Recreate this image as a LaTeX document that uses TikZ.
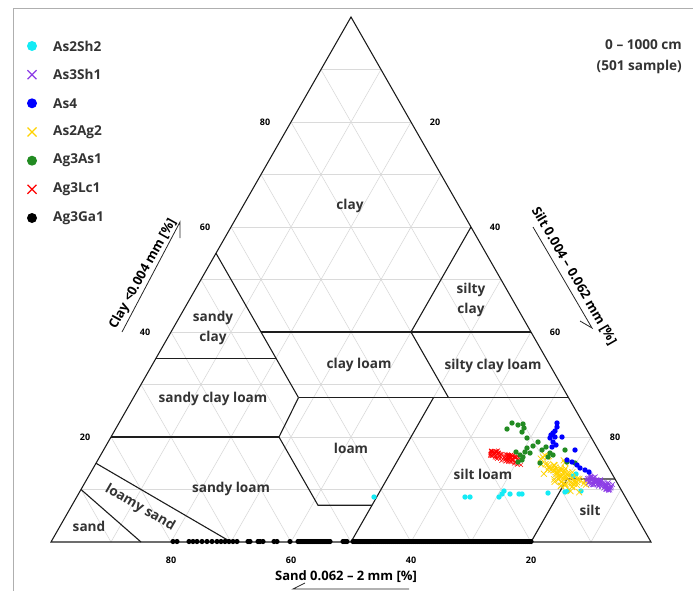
\documentclass[tikz,border=0pt]{standalone}
\usepackage{fontspec}
\setmainfont{Open Sans}
\definecolor{gridgray}{RGB}{218,218,218}
\definecolor{bnd}{RGB}{30,30,30}
\definecolor{txt}{RGB}{51,51,51}
\definecolor{framegray}{RGB}{175,175,175}
\definecolor{ccyan}{RGB}{20,235,245}
\definecolor{cpurple}{RGB}{140,60,230}
\definecolor{cblue}{RGB}{0,0,255}
\definecolor{cyellow}{RGB}{255,210,0}
\definecolor{cgreen}{RGB}{34,139,34}
\definecolor{cred}{RGB}{255,0,0}
\newcommand\crossat[4]{\draw[#4] (#1-#3,#2-#3) -- (#1+#3,#2+#3) (#1-#3,#2+#3) -- (#1+#3,#2-#3);}
\begin{document}
\begin{tikzpicture}[x=1pt,y=-1pt,
  declare function={tx(\c,\s)=51+6*(\s+\c/2); ty(\c)=542-5.25*\c;},
  gridline/.style={draw=gridgray, line width=0.6pt},
  bound/.style={draw=bnd, line width=1.1pt},
  cls/.style={font=\fontsize{13.6}{20}\selectfont\bfseries, text=txt, align=center, inner sep=0pt},
  ticklab/.style={font=\fontsize{9}{10}\selectfont\bfseries, text=black, inner sep=0pt},
  axtitle/.style={font=\fontsize{13}{14}\selectfont\bfseries, text=black, inner sep=0pt},
  axline/.style={draw=black!85, line width=0.8pt},
  legtext/.style={font=\fontsize{13.6}{15}\selectfont\bfseries, text=txt, anchor=west, inner sep=0pt},
]
\useasboundingbox (0,0) rectangle (693,591);
% frame
\draw[framegray, line width=1pt] (13,591) -- (13,9) -- (693,9);

% grid
\foreach \k in {10,20,...,90}{
  \pgfmathsetmacro\m{100-\k}
  \draw[gridline] ({tx(\k,0)},{ty(\k)}) -- ({tx(\k,\m)},{ty(\k)});
  \draw[gridline] ({tx(0,\k)},{ty(0)}) -- ({tx(\m,\k)},{ty(\m)});
  \draw[gridline] ({tx(0,\m)},{ty(0)}) -- ({tx(\m,0)},{ty(\m)});
}

% vertices
\coordinate (BL) at ({tx(0,0)},{ty(0)});
\coordinate (BR) at ({tx(0,100)},{ty(0)});
\coordinate (AP) at ({tx(100,0)},{ty(100)});
\coordinate (sc1) at ({tx(55,0)},{ty(55)});
\coordinate (sc2) at ({tx(35,20)},{ty(35)});
\coordinate (sc3) at ({tx(35,0)},{ty(35)});
\coordinate (cl1) at ({tx(40,15)},{ty(40)});
\coordinate (cl2) at ({tx(40,40)},{ty(40)});
\coordinate (cl3) at ({tx(40,60)},{ty(40)});
\coordinate (sy1) at ({tx(60,40)},{ty(60)});
\coordinate (ck1) at ({tx(27.5,27.5)},{ty(27.5)});
\coordinate (ck2) at ({tx(27.5,52.5)},{ty(27.5)});
\coordinate (ck3) at ({tx(27.5,72.5)},{ty(27.5)});
\coordinate (ck4) at ({tx(27.5,50)},{ty(27.5)});
\coordinate (sl1) at ({tx(20,0)},{ty(20)});
\coordinate (sl2) at ({tx(20,28)},{ty(20)});
\coordinate (lo1) at ({tx(7,41)},{ty(7)});
\coordinate (lo2) at ({tx(7,50)},{ty(7)});
\coordinate (lo3) at ({tx(0,50)},{ty(0)});
\coordinate (si1) at ({tx(12,80)},{ty(12)});
\coordinate (si2) at ({tx(12,88)},{ty(12)});
\coordinate (si3) at ({tx(0,80)},{ty(0)});
\coordinate (ls1) at ({tx(15,0)},{ty(15)});
\coordinate (ls2) at ({tx(0,30)},{ty(0)});
\coordinate (sa1) at ({tx(10,0)},{ty(10)});
\coordinate (sa2) at ({tx(0,15)},{ty(0)});

% boundaries
\draw[bound] (sc1) -- (sc2) -- (ck1);
\draw[bound] (sc3) -- (sc2);
\draw[bound] (cl1) -- (cl3);
\draw[bound] (sy1) -- (cl2) -- (ck2);
\draw[bound] (ck1) -- (ck3);
\draw[bound] (ck1) -- (sl2) -- (lo1) -- (lo2);
\draw[bound] (sl1) -- (sl2);
\draw[bound] (ck4) -- (lo3);
\draw[bound] (si2) -- (si1) -- (si3);
\draw[bound] (ls1) -- (ls2);
\draw[bound] (sa1) -- (sa2);
\draw[bound, line join=miter] (BL) -- (BR) -- (AP) -- cycle;

% tick labels
\foreach \v in {20,40,60,80}{
  \node[ticklab] (tl\v) at ({tx(\v,0)-26},{ty(\v)}) {\v};
  \node[ticklab] (tr\v) at ({tx(100-\v,\v)+24},{ty(100-\v)}) {\v};
  \node[ticklab] (tb\v) at ({tx(0,100-\v)},560) {\v};
}

% class labels
\node[cls] (lclay) at (350,206) {clay};
\node[cls] (lsiltyclay) at (471,300) {silty\\clay};
\node[cls] (lsandyclay) at (213,328) {sandy\\clay};
\node[cls] (lclayloam) at (359,365) {clay loam};
\node[cls] (lsiltyclayloam) at (493,366) {silty clay loam};
\node[cls] (lsandyclayloam) at (213,399) {sandy clay loam};
\node[cls] (lloam) at (351,448) {loam};
\node[cls] (lsiltloam) at (483,474) {silt loam};
\node[cls] (lsandyloam) at (231,489) {sandy loam};
\node[cls, rotate=-30] (lloamysand) at (140,508) {loamy sand};
\node[cls] (lsand) at (89,526) {sand};
\node[cls] (lsilt) at (590,510) {silt};

% axis titles
\node[axtitle, rotate=61] (tclay) at (143,274) {Clay <0.004 mm [\%]};
\coordinate (ca1) at (122,332);
\coordinate (ca2) at (180,222);
\coordinate (ca3) at (180,238);
\draw[axline] (ca1) -- (ca2) -- (ca3);
\node[axtitle, rotate=-60] (tsilt) at (574,276) {Silt 0.004 – 0.062 mm [\%]};
\coordinate (sa1) at (533,227);
\coordinate (sa2) at (592,328);
\coordinate (sa3) at (580,321);
\draw[axline] (sa1) -- (sa2) -- (sa3);
\node[axtitle] (tsand) at (346,577) {Sand 0.062 – 2 mm [\%]};
\coordinate (sd1) at (409,589);
\coordinate (sd2) at (293,589);
\coordinate (sd3) at (305,583);
\draw[axline] (sd1) -- (sd2) -- (sd3);

% top-right note
\node[legtext, anchor=east] (note1) at (682,45) {0 – 1000 cm};
\node[legtext, anchor=east] (note2) at (682,67) {(501 sample)};

% legend
\fill[ccyan] (32,46) circle (5);
\node[legtext] (g1) at (53,46) {As2Sh2};
\crossat{32}{74.7}{4.5}{cpurple, line width=1.3pt}
\node[legtext] (g2) at (53,74.7) {As3Sh1};
\fill[cblue] (32,103.3) circle (5);
\node[legtext] (g3) at (53,103.3) {As4};
\crossat{32}{132}{4.5}{cyellow, line width=1.3pt}
\node[legtext] (g4) at (53,132) {As2Ag2};
\fill[cgreen] (32,160.7) circle (5);
\node[legtext] (g5) at (53,160.7) {Ag3As1};
\crossat{32}{189.3}{4.5}{cred, line width=1.3pt}
\node[legtext] (g6) at (53,189.3) {Ag3Lc1};
\fill[black] (32,218) circle (5);
\node[legtext] (g7) at (53,218) {Ag3Ga1};

% data: black along bottom
\foreach \x in {173,177,189,193,197,202,207,212,217,221,225,229,233,237,248,250,258,260,263,274,277,290,343,345,347}{
  \fill[black] (\x,541.5) circle (2.6);
}
\foreach \x in {298,300,...,330}{ \fill[black] (\x,541.5) circle (2.6); }
\foreach \x in {353,355,...,531}{ \fill[black] (\x,541.5) circle (2.6); }

% cyan
\foreach \p in {(374,497),(465,497),(470,497),(499,497),(502,494),(504,491),(510,494),(519,494),(522,494),(548,493),(565,492),(568,491),(573,476),(576,474),(581,491)}{
  \fill[ccyan] \p circle (2.7);
}

% red crosses
\pgfmathsetseed{11}
\foreach \i in {1,...,80}{
  \pgfmathsetmacro\t{rnd}
  \pgfmathsetmacro\px{490+30*\t+3*(rnd-0.5)}
  \pgfmathsetmacro\py{453+8*\t+9*(rnd-0.5)}
  \crossat{\px}{\py}{2}{cred, line width=0.5pt}
}

% yellow crosses
\foreach \i in {1,...,70}{
  \pgfmathsetmacro\t{rnd}
  \pgfmathsetmacro\px{549+28*\t+22*(rnd-0.5)}
  \pgfmathsetmacro\py{461+28*\t+14*(rnd-0.5)}
  \crossat{\px}{\py}{3}{cyellow, line width=0.7pt}
}

% purple crosses
\foreach \i in {1,...,70}{
  \pgfmathsetmacro\t{rnd}
  \pgfmathsetmacro\px{588+24*\t+4*(rnd-0.5)}
  \pgfmathsetmacro\py{479+9*\t+9*(rnd-0.5)}
  \crossat{\px}{\py}{2.3}{cpurple, line width=0.6pt}
}

% green dots
\foreach \p in {(507,429),(512,423),(518,425),(523,424),(524,428),(522,432),(527,438),(538,442),(546,447),(542,450),(527,448),(530,453),(523,457),(522,460),(518,462),(516,452),(540,463),(550,453),(553,455),(565,450),(567,462),(575,463),(533,446),(520,455),(548,457),(525,452)}{
  \fill[cgreen] \p circle (2.7);
}

% blue dots
\foreach \p in {(557,423),(557,427),(555,431),(553,433),(551,435),(550,438),(555,437),(562,437),(553,442),(552,447),(575,450),(567,460),(572,462),(577,465),(580,468),(585,470),(589,472),(556,445)}{
  \fill[cblue] \p circle (2.7);
}
\end{tikzpicture}
\end{document}
